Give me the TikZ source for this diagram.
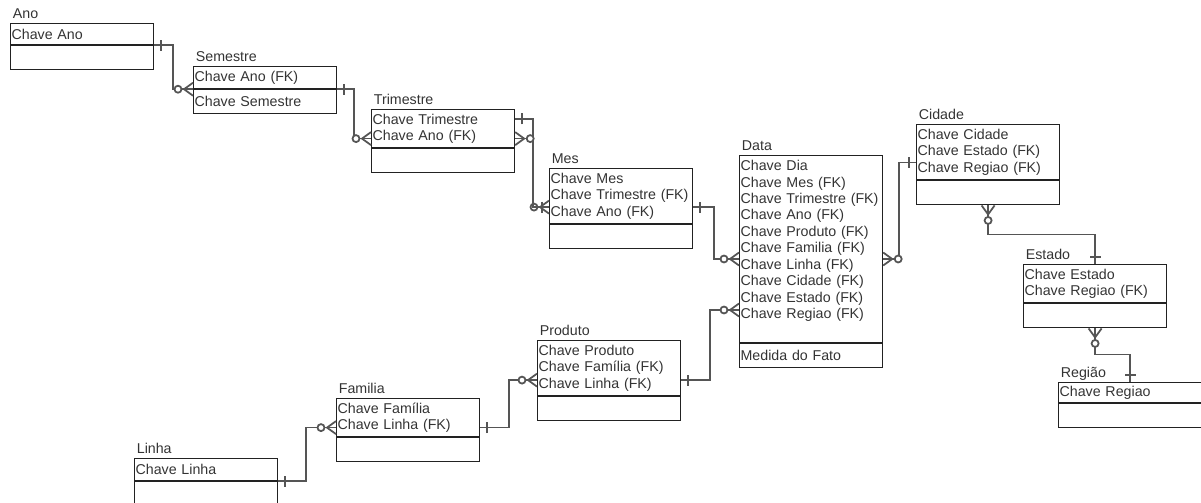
\documentclass[tikz,border=0pt]{standalone}
\usepackage{fontspec}
\setmainfont{Liberation Sans}
\usepackage{xcolor}
\usepackage{tikz}
\usetikzlibrary{positioning,calc}
\definecolor{boxline}{HTML}{222222}
\definecolor{relline}{HTML}{555555}
\definecolor{attrtext}{HTML}{333333}
\tikzset{
  entbox/.style={draw=boxline, line width=0.7pt, anchor=north west, text width=2.82cm, inner xsep=0.02cm, inner ysep=0.06cm, align=left, text=attrtext, font=\fontsize{8.1}{9.35}\selectfont},
  enttitle/.style={inner sep=0pt, text depth=0pt, text=attrtext, font=\fontsize{8.1}{9.35}\selectfont},
  rel/.style={draw=relline, line width=1pt},
  pics/one/.style={code={\draw[rel] (-7,-5.5) -- (-7,5.5);}},
  pics/many/.style={code={\draw[rel] (0,-6.5) -- (-9,0) -- (0,6.5); \draw[rel, fill=white] (-15,0) circle (3.5);}},
}
\begin{document}
\begin{tikzpicture}[x=0.02cm, y=-0.02cm]
  \useasboundingbox (0,0) rectangle (1201,503);

  % Ano
  \node[entbox, minimum height=0.42cm] (ano) at (10,23) {Chave Ano};
  \node[entbox, minimum height=0.48cm, below=0pt of ano] (ano-b) {};
  \node[enttitle, above right=0.09cm and 0.05cm of ano.north west] (ano-t) {Ano};

  % Semestre
  \node[entbox, minimum height=0.44cm] (sem) at (193,66) {Chave Ano (FK)};
  \node[entbox, minimum height=0.48cm, below=0pt of sem] (sem-b) {Chave Semestre};
  \node[enttitle, above right=0.09cm and 0.05cm of sem.north west] (sem-t) {Semestre};

  % Trimestre
  \node[entbox, minimum height=0.76cm] (tri) at (371,109) {Chave Trimestre\\Chave Ano (FK)};
  \node[entbox, minimum height=0.48cm, below=0pt of tri] (tri-b) {};
  \node[enttitle, above right=0.09cm and 0.05cm of tri.north west] (tri-t) {Trimestre};

  % Mes
  \node[entbox, minimum height=1.1cm] (mes) at (549,168) {Chave Mes\\Chave Trimestre (FK)\\Chave Ano (FK)};
  \node[entbox, minimum height=0.48cm, below=0pt of mes] (mes-b) {};
  \node[enttitle, above right=0.09cm and 0.05cm of mes.north west] (mes-t) {Mes};

  % Data (fato)
  \node[entbox, text height=0.24cm, text depth=3.38cm] (dat) at (739,155) {Chave Dia\\Chave Mes (FK)\\Chave Trimestre (FK)\\Chave Ano (FK)\\Chave Produto (FK)\\Chave Familia (FK)\\Chave Linha (FK)\\Chave Cidade (FK)\\Chave Estado (FK)\\Chave Regiao (FK)};
  \node[entbox, minimum height=0.48cm, below=0pt of dat] (dat-b) {Medida do Fato};
  \node[enttitle, above right=0.09cm and 0.05cm of dat.north west] (dat-t) {Data};

  % Cidade
  \node[entbox, minimum height=1.1cm] (cid) at (916,124) {Chave Cidade\\Chave Estado (FK)\\Chave Regiao (FK)};
  \node[entbox, minimum height=0.48cm, below=0pt of cid] (cid-b) {};
  \node[enttitle, above right=0.09cm and 0.05cm of cid.north west] (cid-t) {Cidade};

  % Estado
  \node[entbox, minimum height=0.76cm] (est) at (1023,264) {Chave Estado\\Chave Regiao (FK)};
  \node[entbox, minimum height=0.48cm, below=0pt of est] (est-b) {};
  \node[enttitle, above right=0.09cm and 0.05cm of est.north west] (est-t) {Estado};

  % Regiao
  \node[entbox, minimum height=0.4cm] (reg) at (1058,382) {Chave Regiao};
  \node[entbox, minimum height=0.48cm, below=0pt of reg] (reg-b) {};
  \node[enttitle, above right=0.09cm and 0.05cm of reg.north west] (reg-t) {Região};

  % Produto
  \node[entbox, minimum height=1.1cm] (pro) at (537,340) {Chave Produto\\Chave Família (FK)\\Chave Linha (FK)};
  \node[entbox, minimum height=0.48cm, below=0pt of pro] (pro-b) {};
  \node[enttitle, above right=0.09cm and 0.05cm of pro.north west] (pro-t) {Produto};

  % Familia
  \node[entbox, minimum height=0.76cm] (fam) at (336,398) {Chave Família\\Chave Linha (FK)};
  \node[entbox, minimum height=0.48cm, below=0pt of fam] (fam-b) {};
  \node[enttitle, above right=0.09cm and 0.05cm of fam.north west] (fam-t) {Familia};

  % Linha
  \node[entbox, minimum height=0.44cm] (lin) at (134,458) {Chave Linha};
  \node[entbox, minimum height=0.48cm, below=0pt of lin] (lin-b) {};
  \node[enttitle, above right=0.09cm and 0.05cm of lin.north west] (lin-t) {Linha};

  % Relacionamentos
  \draw[rel] (ano.south east) pic[rotate=180]{one} -- ++(19,0) |- (sem.south west) pic{many};
  \draw[rel] (sem.south east) pic[rotate=180]{one} -- ++(17,0) |- ($(tri.west)+(0,10)$) pic{many};
  \draw[rel] ($(tri.north east)+(0,10)$) pic[rotate=180]{one} -- ++(18,0) |- ($(mes.west)+(0,11)$) pic{many};
  \draw[rel] ($(tri.east)+(0,10)$) pic[rotate=180]{many} -- ++(18,0) |- ($(mes.west)+(0,11)$) pic{one};
  \draw[rel] ($(mes.east)+(0,11)$) pic[rotate=180]{one} -- ++(21,0) |- ($(dat.north west)+(0,104)$) pic{many};
  \draw[rel] ($(dat.north east)+(0,104)$) pic[rotate=180]{many} -- ++(16,0) |- ($(cid.west)+(0,10.5)$) pic{one};
  \draw[rel] ($(pro.east)+(0,12)$) pic[rotate=180]{one} -- ++(29,0) |- ($(dat.north west)+(0,155)$) pic{many};
  \draw[rel] ($(fam.east)+(0,10)$) pic[rotate=180]{one} -- ++(29,0) |- ($(pro.west)+(0,12)$) pic{many};
  \draw[rel] (lin.south east) pic[rotate=180]{one} -- ++(28,0) |- ($(fam.west)+(0,10)$) pic{many};
  \draw[rel] (cid-b.south) pic[rotate=90]{many} -- ++(0,29) -| (est.north) pic[rotate=-90]{one};
  \draw[rel] (est-b.south) pic[rotate=90]{many} -- ++(0,26) -| (reg.north) pic[rotate=-90]{one};
\end{tikzpicture}
\end{document}
